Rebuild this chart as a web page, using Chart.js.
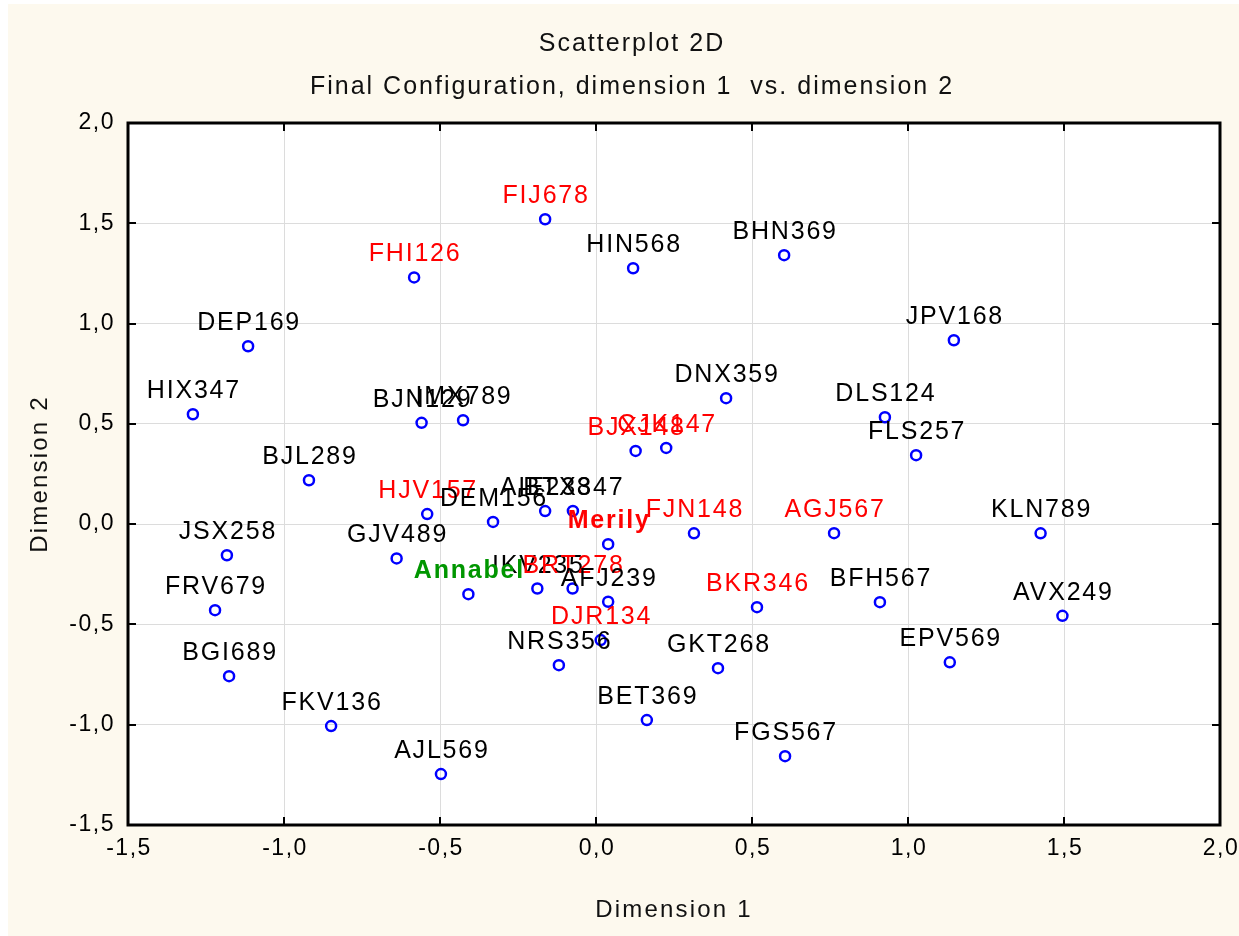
<!DOCTYPE html>
<html>
<head>
<meta charset="utf-8">
<script src="https://cdn.jsdelivr.net/npm/chart.js@4.4.1/dist/chart.umd.min.js"></script>
<style>
  html, body { margin: 0; padding: 0; background: #ffffff; }
  #wrap { width: 1239px; height: 936px; }
</style>
</head>
<body>
<div id="wrap"><canvas id="scatter" width="1239" height="936"></canvas></div>
<script>
// point names and their coordinates on the two dimensions
const pointNames = [
  'FIJ678', 'HIN568', 'BHN369', 'FHI126', 'DEP169', 'JPV168', 'HIX347',
  'BJN129', 'IMX789', 'DNX359', 'DLS124', 'FLS257', 'BJX148', 'CJK147',
  'BJL289', 'HJV157', 'DEM156', 'AIE238', 'BTX347', 'Merily', 'FJN148',
  'AGJ567', 'KLN789', 'JSX258', 'GJV489', 'IKV235', 'BRT278', 'Annabel',
  'AFJ239', 'DJR134', 'FRV679', 'BGI689', 'BKR346', 'BFH567', 'AVX249',
  'EPV569', 'NRS356', 'GKT268', 'FKV136', 'BET369', 'AJL569', 'FGS567'
];
const dimension1 = [
  -0.163, 0.119, 0.603, -0.583, -1.115, 1.147, -1.292,
  -0.559, -0.426, 0.417, 0.926, 1.026, 0.127, 0.225,
  -0.920, -0.541, -0.330, -0.163, -0.074, 0.039, 0.314,
  0.763, 1.425, -1.183, -0.639, -0.188, -0.075, -0.409,
  0.039, 0.015, -1.221, -1.176, 0.516, 0.910, 1.495,
  1.134, -0.119, 0.391, -0.849, 0.163, -0.497, 0.606
];
const dimension2 = [
  1.520, 1.276, 1.341, 1.230, 0.887, 0.917, 0.548,
  0.505, 0.518, 0.628, 0.533, 0.344, 0.365, 0.380,
  0.219, 0.050, 0.011, 0.065, 0.066, -0.100, -0.046,
  -0.045, -0.046, -0.155, -0.171, -0.321, -0.321, -0.349,
  -0.387, -0.578, -0.429, -0.758, -0.414, -0.389, -0.457,
  -0.689, -0.703, -0.718, -1.007, -0.977, -1.246, -1.157
];

// which names get highlighted labels
const redNames = ['FIJ678', 'FHI126', 'BJX148', 'CJK147', 'HJV157', 'Merily',
  'FJN148', 'AGJ567', 'BRT278', 'DJR134', 'BKR346'];
const greenNames = ['Annabel'];
const boldNames = ['Merily', 'Annabel'];

const axisTicks = [-1.5, -1.0, -0.5, 0.0, 0.5, 1.0, 1.5, 2.0];
const titleLines = ['Scatterplot 2D', 'Final Configuration, dimension 1  vs. dimension 2'];
const xTitle = 'Dimension 1';
const yTitle = 'Dimension 2';

const FONT = '"Liberation Sans", Arial, sans-serif';
const fmt = v => v.toFixed(1).replace('.', ',');

const sceneryPlugin = {
  id: 'scenery',
  beforeDraw(chart) {
    const { ctx, width, height, chartArea: a } = chart;
    ctx.save();
    ctx.fillStyle = '#ffffff';
    ctx.fillRect(0, 0, width, height);
    ctx.fillStyle = '#fdf9ee';
    ctx.fillRect(8, 4, width - 8, height - 4);
    ctx.fillStyle = '#ffffff';
    ctx.fillRect(a.left, a.top, a.right - a.left, a.bottom - a.top);
    ctx.restore();
  },
  afterDatasetsDraw(chart) {
    const { ctx } = chart;
    const meta = chart.getDatasetMeta(0);
    ctx.save();
    ctx.textAlign = 'center';
    ctx.textBaseline = 'alphabetic';
    ctx.letterSpacing = '1.8px';
    meta.data.forEach((pt, i) => {
      const name = pointNames[i];
      const bold = boldNames.includes(name);
      ctx.font = (bold ? 'bold ' : '') + '25px ' + FONT;
      ctx.fillStyle = greenNames.includes(name) ? '#009600'
        : redNames.includes(name) ? '#ff0000' : '#000000';
      ctx.fillText(name, pt.x + 1, pt.y - 16);
    });
    ctx.restore();
  },
  afterDraw(chart) {
    const { ctx, chartArea: a } = chart;
    const xs = chart.scales.x, ys = chart.scales.y;
    ctx.save();
    // frame
    ctx.strokeStyle = '#000000';
    ctx.lineWidth = 3;
    ctx.strokeRect(a.left, a.top, a.right - a.left, a.bottom - a.top);
    // inward ticks
    ctx.lineWidth = 2;
    ctx.beginPath();
    xs.ticks.forEach(t => {
      const px = Math.round(xs.getPixelForValue(t.value));
      ctx.moveTo(px, a.bottom); ctx.lineTo(px, a.bottom - 8);
      ctx.moveTo(px, a.top); ctx.lineTo(px, a.top + 8);
    });
    ys.ticks.forEach(t => {
      const py = Math.round(ys.getPixelForValue(t.value));
      ctx.moveTo(a.left, py); ctx.lineTo(a.left + 8, py);
      ctx.moveTo(a.right, py); ctx.lineTo(a.right - 8, py);
    });
    ctx.stroke();

    // tick labels
    ctx.fillStyle = '#000000';
    ctx.font = '23px ' + FONT;
    ctx.letterSpacing = '1.5px';
    ctx.textBaseline = 'middle';
    ctx.textAlign = 'center';
    xs.ticks.forEach(t => {
      ctx.fillText(fmt(t.value), xs.getPixelForValue(t.value) + 1, a.bottom + 24);
    });
    ctx.textAlign = 'right';
    ys.ticks.forEach(t => {
      ctx.fillText(fmt(t.value), a.left - 13, ys.getPixelForValue(t.value));
    });

    // titles
    ctx.fillStyle = '#111111';
    ctx.textAlign = 'center';
    ctx.letterSpacing = '2px';
    ctx.font = '25px ' + FONT;
    ctx.fillText(titleLines[0], 632, 44);
    ctx.fillText(titleLines[1], 632, 87);

    ctx.font = '24px ' + FONT;
    ctx.letterSpacing = '2.2px';
    ctx.fillText(xTitle, (a.left + a.right) / 2, 910);
    ctx.translate(40, (a.top + a.bottom) / 2);
    ctx.rotate(-Math.PI / 2);
    ctx.fillText(yTitle, 0, 0);
    ctx.restore();
  }
};

const fixedTicks = scale => { scale.ticks = axisTicks.map(v => ({ value: v })); };

new Chart(document.getElementById('scatter'), {
  type: 'scatter',
  data: {
    datasets: [{
      data: pointNames.map((n, i) => ({ x: dimension1[i], y: dimension2[i] })),
      pointRadius: 5,
      pointHoverRadius: 5,
      pointBorderWidth: 2.5,
      borderColor: '#0000ff',
      backgroundColor: 'rgba(255,255,255,0)'
    }]
  },
  options: {
    responsive: false,
    animation: false,
    devicePixelRatio: 1,
    layout: { padding: { left: 8, top: 123, right: 19, bottom: 0 } },
    plugins: { legend: { display: false }, tooltip: { enabled: false } },
    scales: {
      x: {
        type: 'linear', min: -1.5, max: 2,
        afterBuildTicks: fixedTicks,
        ticks: { display: false },
        grid: { color: '#dcdcdc', lineWidth: 1, drawTicks: false },
        border: { display: false },
        afterFit: s => { s.height = 111; }
      },
      y: {
        type: 'linear', min: -1.5, max: 2,
        afterBuildTicks: fixedTicks,
        ticks: { display: false },
        grid: { color: '#dcdcdc', lineWidth: 1, drawTicks: false },
        border: { display: false },
        afterFit: s => { s.width = 120; }
      }
    }
  },
  plugins: [sceneryPlugin]
});
</script>
</body>
</html>
